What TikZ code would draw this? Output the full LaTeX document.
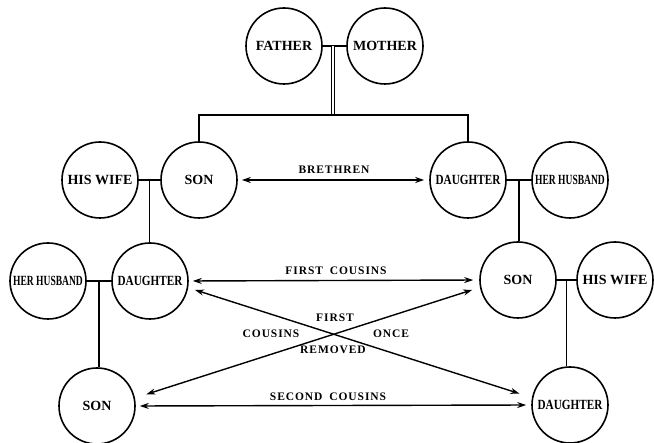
\documentclass[tikz,border=0pt]{standalone}
\usepackage{fontspec}
\setmainfont{Liberation Serif}
\newfontfamily\labfont[LetterSpace=8]{Liberation Serif}
\usetikzlibrary{arrows.meta}
\begin{document}
\begin{tikzpicture}[x=1pt,y=-1pt,
  person/.style={circle, draw, line width=1.6pt, minimum size=76pt, inner sep=0pt,
    font=\fontsize{14}{14}\selectfont\bfseries},
  kin/.style={line width=1.6pt},
  rel/.style={line width=1.4pt, {Stealth[length=9pt,width=6pt]}-{Stealth[length=9pt,width=6pt]}},
  lab/.style={font=\labfont\fontsize{11.5}{12}\selectfont\bfseries, inner sep=0pt}]
\useasboundingbox (0,0) rectangle (654,443);
% people
\node[person] (father) at (284,46) {FATHER};
\node[person] (mother) at (385,46) {MOTHER};
\node[person] (wife1) at (100,180) {HIS WIFE};
\node[person] (son1) at (199,180) {SON};
\node[person] (dau1) at (468,180) {\scalebox{0.8}[1]{DAUGHTER}};
\node[person] (hus1) at (570,180) {\scalebox{0.68}[1]{HER HUSBAND}};
\node[person] (hus2) at (48,281) {\scalebox{0.68}[1]{HER HUSBAND}};
\node[person] (dau2) at (150,281) {\scalebox{0.8}[1]{DAUGHTER}};
\node[person] (son2) at (518,280) {SON};
\node[person] (wife2) at (615,280) {HIS WIFE};
\node[person] (son3) at (97,406) {SON};
\node[person] (dau3) at (570,405) {\scalebox{0.8}[1]{DAUGHTER}};
% family lines
\coordinate (fm) at (333,46);
\coordinate (bar) at (333,115);
\draw[kin] (father) -- (mother);
\draw[line width=1.1pt, double, double distance=2.5pt] (fm) -- (bar);
\draw[kin] (son1.north) |- (bar) -| (dau1.north);
\path (wife1.east) -- (son1.west) coordinate[midway] (c1);
\draw[kin] (wife1) -- (son1);
\draw[kin] (c1) -- (c1 |- dau2.north);
\path (dau1.east) -- (hus1.west) coordinate[midway] (c2);
\draw[kin] (dau1) -- (hus1);
\draw[kin] (c2) -- (c2 |- son2.north);
\path (hus2.east) -- (dau2.west) coordinate[midway] (c3);
\draw[kin] (hus2) -- (dau2);
\draw[kin] (c3) -- (c3 |- son3.north);
\path (son2.east) -- (wife2.west) coordinate[midway] (c4);
\draw[kin] (son2) -- (wife2);
\draw[kin] (c4) -- (c4 |- dau3.north);
% relationship arrows
\draw[rel, shorten <=4pt, shorten >=5pt] (son1.east) -- (dau1.west);
\draw[rel, shorten <=4pt, shorten >=6pt] (dau2.east) -- (son2.west);
\draw[rel, shorten <=4pt, shorten >=5pt] (son3.east) -- (dau3.west);
\draw[rel, shorten <=7pt, shorten >=13pt] (dau2.-10) -- (dau3.169);
\draw[rel, shorten <=12pt, shorten >=8pt] (son3.12) -- (son2.191);
% labels
\node[lab] (lbr) at (334,170) {BRETHREN};
\node[lab] (lfc) at (336,271) {FIRST\hspace{0.6em}COUSINS};
\node[lab] (lsc) at (328,397) {SECOND\hspace{0.6em}COUSINS};
\node[lab] (lfi) at (335,318) {FIRST};
\node[lab] (lco) at (271,334) {COUSINS};
\node[lab] (lon) at (391,334) {ONCE};
\node[lab] (lre) at (333,350) {REMOVED};
\end{tikzpicture}
\end{document}
